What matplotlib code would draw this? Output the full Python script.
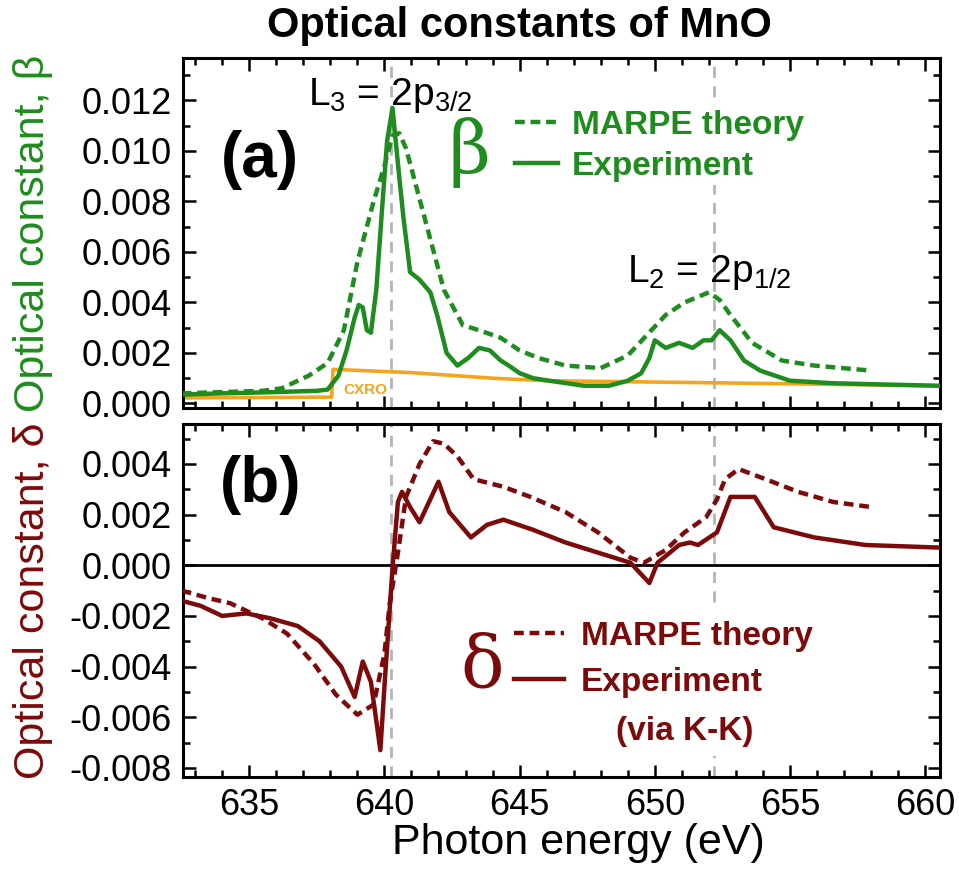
import matplotlib
matplotlib.use("Agg")
import matplotlib.pyplot as plt
from matplotlib.lines import Line2D
from matplotlib.ticker import MultipleLocator, FormatStrFormatter

plt.rcParams['font.family'] = ['Liberation Sans', 'DejaVu Sans']
plt.rcParams['mathtext.fontset'] = 'custom'
plt.rcParams['mathtext.rm'] = 'Liberation Sans'
plt.rcParams['mathtext.it'] = 'Liberation Sans'

GREEN = '#1f8c1f'
DRED = '#7d0a0a'
ORANGE = '#f5a41e'
GREY = '#b4b4b4'

# beta (absorptive part), experiment
beta_exp_E = [632.5, 634.0, 636.0, 637.5, 637.9, 638.3, 638.6, 638.9, 639.05, 639.2,
              639.35, 639.5, 639.7, 639.9, 640.1, 640.3, 640.5, 640.7, 640.95, 641.3,
              641.7, 641.95, 642.3, 642.7, 643.1, 643.5, 643.9, 644.3, 644.6, 645.0,
              645.5, 646.1, 647.4, 648.3, 649.0, 649.5, 649.8, 650.0, 650.4, 650.9,
              651.4, 651.8, 652.1, 652.4, 652.8, 653.3, 653.9, 655.0, 656.6, 658.5, 660.5]
beta_exp = [0.00035, 0.0004, 0.00045, 0.0005, 0.00055, 0.0011, 0.0021, 0.0034, 0.0039, 0.0038,
            0.0029, 0.0028, 0.0045, 0.0075, 0.0104, 0.0117, 0.0095, 0.0074, 0.0052, 0.0049,
            0.0044, 0.0035, 0.0020, 0.0015, 0.0018, 0.0022, 0.0021, 0.0017, 0.0015, 0.0012,
            0.0010, 0.0009, 0.0007, 0.0007, 0.0009, 0.0012, 0.0018, 0.0025, 0.0022, 0.0024,
            0.0022, 0.0025, 0.0025, 0.0029, 0.0025, 0.0017, 0.0013, 0.0009, 0.0008, 0.00075, 0.0007]

# beta, MARPE theory
beta_th_E = [632.5, 634.0, 635.5, 636.2, 637.2, 637.9, 638.5, 639.0, 639.6, 640.0,
             640.3, 640.55, 640.8, 641.1, 641.6, 642.2, 642.9, 643.5, 644.3, 645.0,
             645.7, 646.7, 648.0, 649.0, 649.7, 650.4, 651.1, 652.0, 652.4, 652.8,
             653.6, 654.7, 655.9, 658.0]
beta_th = [0.0004, 0.00045, 0.0005, 0.0006, 0.0011, 0.0016, 0.0029, 0.0056, 0.0080, 0.0094,
           0.0106, 0.0107, 0.0101, 0.0089, 0.0069, 0.0045, 0.0031, 0.0029, 0.0026, 0.0021,
           0.0018, 0.0015, 0.0014, 0.0019, 0.0027, 0.0035, 0.0040, 0.0044, 0.0041, 0.0035,
           0.0024, 0.0017, 0.0015, 0.0013]

# beta, CXRO tabulated
cxro_E = [632.5, 638.05, 638.1, 641.0, 644.0, 646.0, 652.0, 660.5]
cxro = [0.00022, 0.00025, 0.00135, 0.00122, 0.00100, 0.00090, 0.00082, 0.00070]

# delta (dispersive part), experiment via K-K
delta_exp_E = [632.5, 633.2, 634.0, 634.9, 635.8, 636.8, 637.6, 638.4, 638.9, 639.2,
               639.5, 639.85, 640.0, 640.3, 640.5, 640.65, 640.95, 641.3, 642.0, 642.4,
               643.2, 643.8, 644.4, 645.5, 646.7, 647.9, 649.1, 649.8, 650.1, 650.9,
               651.3, 651.6, 652.3, 652.8, 653.2, 653.7, 654.4, 655.9, 657.8, 660.5]
delta_exp = [-0.0014, -0.0016, -0.0020, -0.0019, -0.0021, -0.0024, -0.0030, -0.0040, -0.0052, -0.0038,
             -0.0046, -0.0073, -0.0048, -0.0001, 0.0025, 0.0029, 0.0023, 0.0017, 0.0033, 0.0021,
             0.0011, 0.0016, 0.0018, 0.0014, 0.0009, 0.0005, 0.0001, -0.0007, 0.0001, 0.0008,
             0.0009, 0.0008, 0.0013, 0.0027, 0.0027, 0.0027, 0.0015, 0.0011, 0.0008, 0.0007]

# delta, MARPE theory
delta_th_E = [632.5, 633.5, 634.3, 635.5, 636.4, 637.4, 638.2, 639.0, 639.6, 640.0,
              640.2, 640.5, 640.8, 641.3, 641.8, 642.2, 642.7, 643.3, 644.4, 645.4,
              646.7, 647.9, 649.1, 649.6, 650.4, 651.1, 651.9, 652.3, 652.6, 653.1,
              654.1, 655.3, 656.6, 658.0]
delta_th = [-0.0010, -0.0013, -0.0015, -0.0021, -0.0027, -0.0039, -0.0051, -0.0059, -0.0055, -0.0035,
            -0.0015, 0.0005, 0.0027, 0.0040, 0.0049, 0.0048, 0.0043, 0.0034, 0.0031, 0.0027,
            0.0021, 0.0013, 0.0003, 0.0001, 0.0006, 0.0013, 0.0019, 0.0026, 0.0034, 0.0038,
            0.0034, 0.0029, 0.0025, 0.0023]

# L3 / L2 edge positions
edges = [640.25, 652.2]

fig = plt.figure(figsize=(9.59, 8.74), dpi=100)
ax1 = fig.add_axes([0.1908, 0.5332, 0.7894, 0.4004])
ax2 = fig.add_axes([0.1908, 0.1110, 0.7894, 0.4039])

TICK = 26
for ax in (ax1, ax2):
    ax.set_xlim(632.55, 660.55)
    ax.xaxis.set_major_locator(MultipleLocator(5))
    ax.xaxis.set_minor_locator(MultipleLocator(1))
    ax.yaxis.set_major_locator(MultipleLocator(0.002))
    ax.yaxis.set_minor_locator(MultipleLocator(0.001))
    ax.yaxis.set_major_formatter(FormatStrFormatter('%.3f'))
    ax.tick_params(which='both', direction='in', top=True, right=True, width=1.8,
                   labelsize=TICK, pad=8)
    ax.tick_params(which='major', length=9)
    ax.tick_params(which='minor', length=5)
    for s in ax.spines.values():
        s.set_linewidth(2.2)

ax1.tick_params(labelbottom=False)
ax1.set_ylim(-0.00018, 0.01368)
ax2.set_ylim(-0.00836, 0.00558)

# panel (a)
for e in edges:
    ax1.axvline(e, color=GREY, ls=(0, (4, 3)), lw=2, zorder=1)
ax1.plot(cxro_E, cxro, color=ORANGE, lw=2.6, zorder=2)
ax1.plot(beta_th_E, beta_th, color=GREEN, lw=3.2, ls=(0, (2.2, 1.3)), zorder=3)
ax1.plot(beta_exp_E, beta_exp, color=GREEN, lw=3.2, zorder=4)
ax1.text(639.3, 0.00055, 'CXRO', color=ORANGE, fontsize=11, fontweight='bold',
         ha='center', va='center', zorder=2)
ax1.text(0.102, 0.71, '(a)', transform=ax1.transAxes, fontsize=46, fontweight='bold',
         ha='center', va='center')
ax1.text(640.2, 0.0122, 'L$_3$ = 2p$_{3/2}$', fontsize=28, ha='center', va='center', zorder=5)
ax1.text(652.0, 0.0052, 'L$_2$ = 2p$_{1/2}$', fontsize=28, ha='center', va='center', zorder=5)
ax1.text(0.378, 0.73, 'β', transform=ax1.transAxes, fontsize=52, color=GREEN,
         family='DejaVu Serif', ha='center', va='center')
h1 = [Line2D([], [], color=GREEN, lw=3.2, ls=(0, (2.2, 1.3))),
      Line2D([], [], color=GREEN, lw=3.2)]
leg1 = ax1.legend(h1, ['MARPE theory', 'Experiment'], loc='center left',
                  bbox_to_anchor=(0.434, 0.75), frameon=True, framealpha=1,
                  facecolor='white', edgecolor='none', fancybox=False,
                  prop={'size': 24, 'weight': 'bold'}, labelcolor=GREEN,
                  handlelength=1.3, handletextpad=0.4, labelspacing=0.3,
                  borderpad=0.1, borderaxespad=0)
leg1.set_zorder(6)

# panel (b)
ax2.axvline(edges[0], color=GREY, ls=(0, (4, 3)), lw=2, zorder=1)
ax2.axvline(edges[1], color=GREY, ls=(0, (4, 3)), lw=2, zorder=1)
ax2.axhline(0, color='black', lw=2, zorder=2)
ax2.plot(delta_th_E, delta_th, color=DRED, lw=3.2, ls=(0, (2.2, 1.3)), zorder=3)
ax2.plot(delta_exp_E, delta_exp, color=DRED, lw=3.2, zorder=4)
ax2.text(0.102, 0.827, '(b)', transform=ax2.transAxes, fontsize=46, fontweight='bold',
         ha='center', va='center')
ax2.text(0.395, 0.31, 'δ', transform=ax2.transAxes, fontsize=52, color=DRED,
         family='DejaVu Serif', ha='center', va='center')
h2 = [Line2D([], [], color=DRED, lw=3.2, ls=(0, (2.2, 1.3))),
      Line2D([], [], color=DRED, lw=3.2)]
leg2 = ax2.legend(h2, ['MARPE theory', 'Experiment'], loc='center left',
                  bbox_to_anchor=(0.42, 0.333), frameon=True, framealpha=1,
                  facecolor='white', edgecolor='none', fancybox=False,
                  prop={'size': 24, 'weight': 'bold'}, labelcolor=DRED,
                  handlelength=1.5, handletextpad=0.5, labelspacing=0.45,
                  borderpad=0.4, borderaxespad=0)
leg2.set_zorder(6)
ax2.text(0.663, 0.128, '(via K-K)', transform=ax2.transAxes, fontsize=24,
         fontweight='bold', color=DRED, ha='center', va='center', zorder=6,
         bbox=dict(facecolor='white', edgecolor='none', pad=6))

# figure texts
fig.text(0.542, 0.970, 'Optical constants of MnO', fontsize=30, fontweight='bold',
         ha='center', va='center')
fig.text(0.603, 0.035, 'Photon energy (eV)', fontsize=31, ha='center', va='center')
fig.text(0.034, 0.733, 'Optical constant, β', fontsize=31, color=GREEN, rotation=90,
         ha='center', va='center')
fig.text(0.034, 0.313, 'Optical constant, δ', fontsize=31, color=DRED, rotation=90,
         ha='center', va='center')

fig.savefig('out.png', dpi=100)
